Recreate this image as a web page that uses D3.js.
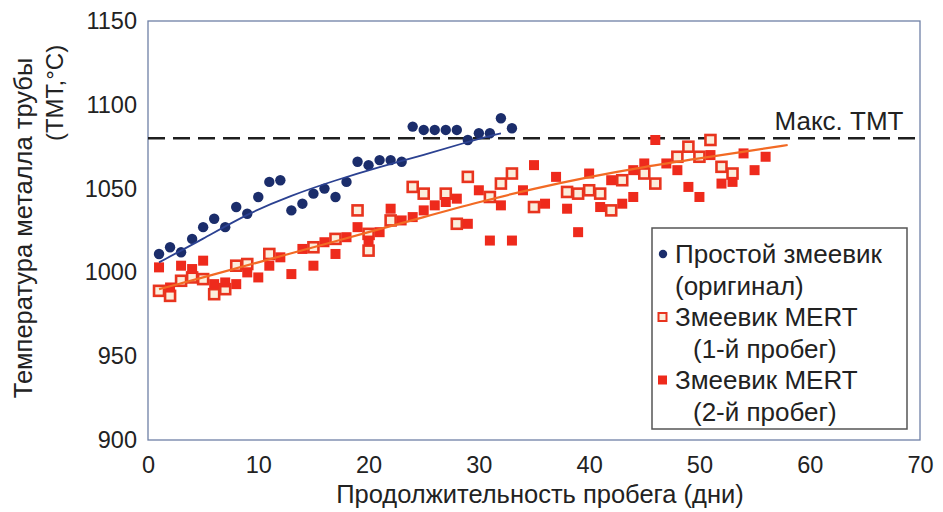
<!DOCTYPE html>
<html>
<head>
<meta charset="utf-8">
<script src="https://cdn.jsdelivr.net/npm/d3@7/dist/d3.min.js"></script>
<style>
  html, body { margin: 0; padding: 0; background: #fff; }
  svg { display: block; font-family: "Liberation Sans", Arial, sans-serif; }
</style>
</head>
<body>
<svg id="chart" width="943" height="512"></svg>
<script>
// Tube metal temperature over run length
const xTicks = [0, 10, 20, 30, 40, 50, 60, 70];
const yTicks = [900, 950, 1000, 1050, 1100, 1150];
const maxTMT = 1080;

// Plain coil (original)
const plainDays = [1,2,3,4,5,6,7,8,9,10,11,12,13,14,15,16,17,18,19,20,21,22,23,24,25,26,27,28,29,30,31,32,33];
const plainTemp = [1011,1015,1012,1020,1027,1032,1027,1039,1035,1045,1054,1055,1037,1041,1047,1050,1045,1054,1066,1064,1067,1067,1066,1087,1085,1085,1085,1085,1079,1083,1083,1092,1086];

// MERT coil, run 1
const run1Days = [1,2,3,4,5,6,7,8,9,11,15,17,19,20,20,22,24,25,27,28,29,31,32,33,35,38,39,40,41,42,43,45,46,48,49,50,51,52,53];
const run1Temp = [989,986,995,997,996,987,990,1004,1005,1011,1015,1020,1037,1023,1013,1031,1051,1047,1047,1029,1057,1045,1053,1059,1039,1048,1047,1049,1047,1037,1055,1059,1053,1069,1075,1069,1079,1063,1059];

// MERT coil, run 2
const run2Days = [1,2,3,4,5,6,7,8,9,10,11,12,13,14,15,16,17,18,19,20,21,22,23,24,25,26,27,28,29,30,31,32,33,34,35,36,37,38,39,40,41,42,43,44,44,45,46,47,48,49,50,51,52,53,54,55,56];
const run2Temp = [1003,991,1004,1002,1007,993,994,993,1000,997,1004,1009,999,1014,1004,1018,1011,1021,1027,1019,1024,1038,1031,1033,1037,1040,1042,1044,1029,1049,1019,1040,1019,1049,1064,1041,1057,1038,1024,1059,1039,1055,1041,1061,1045,1065,1079,1065,1061,1051,1045,1070,1053,1054,1071,1061,1069];

// Trend lines
const plainFitDays = [1,5,9,13,17,21,25,29,32];
const plainFitTemp = [1006,1020,1035,1046,1055,1063,1070,1078,1083];
const mertFitDays = [1,5,10,15,20,25,30,35,40,45,50,55,58];
const mertFitTemp = [990,997,1006,1015,1024,1033,1042,1050,1057,1063,1068,1073,1076];

const legendLines = ["Простой змеевик", "(оригинал)", "Змеевик MERT", "(1-й пробег)", "Змеевик MERT", "(2-й пробег)"];

const svg = d3.select("#chart");
const plotLeft = 148, plotRight = 920, plotTop = 21, plotBottom = 440;

const x = d3.scaleLinear().domain([0, 70]).range([plotLeft, plotRight]);
const y = d3.scaleLinear().domain([900, 1150]).range([plotBottom, plotTop]);

const textColor = "#222";
const navy = "#1b2d6b";
const red = "#ee2a1c";

// Frame
svg.append("rect")
  .attr("x", plotLeft).attr("y", plotTop)
  .attr("width", plotRight - plotLeft).attr("height", plotBottom - plotTop)
  .attr("fill", "none").attr("stroke", "#6f80a6").attr("stroke-width", 1.3);

// Axes (labels only; frame is drawn above)
const yAxis = svg.append("g")
  .attr("transform", `translate(${plotLeft},0)`)
  .call(d3.axisLeft(y).tickValues(yTicks).tickFormat(d3.format("d")).tickSize(0).tickPadding(11));
yAxis.select(".domain").remove();
yAxis.selectAll("text").attr("font-size", 23.5).attr("fill", textColor)
  .attr("font-family", "Liberation Sans, Arial, sans-serif");

const xAxis = svg.append("g")
  .attr("transform", `translate(0,${plotBottom})`)
  .call(d3.axisBottom(x).tickValues(xTicks).tickFormat(d3.format("d")).tickSize(0).tickPadding(16));
xAxis.select(".domain").remove();
xAxis.selectAll("text").attr("font-size", 23.5).attr("fill", textColor)
  .attr("font-family", "Liberation Sans, Arial, sans-serif");

// Axis titles
svg.append("text")
  .attr("x", 540).attr("y", 503)
  .attr("text-anchor", "middle")
  .attr("font-size", 25.5).attr("fill", textColor)
  .text("Продолжительность пробега (дни)");

svg.append("text")
  .attr("transform", "translate(32,228) rotate(-90)")
  .attr("text-anchor", "middle")
  .attr("font-size", 25.5).attr("fill", textColor)
  .text("Температура металла трубы");

svg.append("text")
  .attr("transform", "translate(63,93) rotate(-90)")
  .attr("text-anchor", "middle")
  .attr("font-size", 24).attr("fill", textColor)
  .text("(ТМТ,°С)");

// Max TMT limit
svg.append("line")
  .attr("x1", x(0)).attr("x2", x(70))
  .attr("y1", y(maxTMT)).attr("y2", y(maxTMT))
  .attr("stroke", "#1e1e1e").attr("stroke-width", 2.4)
  .attr("stroke-dasharray", "17,8");
svg.append("text")
  .attr("x", 839).attr("y", 130)
  .attr("text-anchor", "middle")
  .attr("font-size", 26).attr("fill", textColor)
  .text("Макс. ТМТ");

const line = d3.line().x(d => x(d[0])).y(d => y(d[1])).curve(d3.curveBasis);

// Run 1 (hollow squares)
const sq = 10;
svg.append("g").selectAll("rect")
  .data(d3.zip(run1Days, run1Temp))
  .join("rect")
  .attr("x", d => x(d[0]) - sq / 2).attr("y", d => y(d[1]) - sq / 2)
  .attr("width", sq).attr("height", sq)
  .attr("fill", "#fbeedc").attr("stroke", "#e8341e").attr("stroke-width", 2.6);

// Run 2 (filled squares)
svg.append("g").selectAll("rect")
  .data(d3.zip(run2Days, run2Temp))
  .join("rect")
  .attr("x", d => x(d[0]) - sq / 2).attr("y", d => y(d[1]) - sq / 2)
  .attr("width", sq).attr("height", sq)
  .attr("fill", red);

// MERT trend
svg.append("path")
  .datum(d3.zip(mertFitDays, mertFitTemp))
  .attr("d", line)
  .attr("fill", "none").attr("stroke", "#f26a24").attr("stroke-width", 2.2);

// Plain coil points and trend
svg.append("g").selectAll("circle")
  .data(d3.zip(plainDays, plainTemp))
  .join("circle")
  .attr("cx", d => x(d[0])).attr("cy", d => y(d[1]))
  .attr("r", 5.2).attr("fill", navy);

svg.append("path")
  .datum(d3.zip(plainFitDays, plainFitTemp))
  .attr("d", line)
  .attr("fill", "none").attr("stroke", "#2b4191").attr("stroke-width", 1.8);

// Legend
const lg = svg.append("g");
lg.append("rect")
  .attr("x", 652).attr("y", 228).attr("width", 255).attr("height", 201)
  .attr("fill", "#fff").attr("stroke", "#555").attr("stroke-width", 1.5);

const lineY = [263, 294.5, 326, 357.5, 389, 420.5];
const lineX = [675, 675, 675, 693, 675, 693];
lg.selectAll("text.lg")
  .data(legendLines)
  .join("text")
  .attr("class", "lg")
  .attr("x", (d, i) => lineX[i]).attr("y", (d, i) => lineY[i])
  .attr("font-size", 26).attr("fill", textColor)
  .text(d => d);

lg.append("circle").attr("cx", 663).attr("cy", 254).attr("r", 4.2).attr("fill", navy);
lg.append("rect").attr("x", 658.5).attr("y", 313).attr("width", 8).attr("height", 8)
  .attr("fill", "#fbeedc").attr("stroke", "#e8341e").attr("stroke-width", 2);
lg.append("rect").attr("x", 658).attr("y", 375.5).attr("width", 9).attr("height", 9)
  .attr("fill", red);
</script>
</body>
</html>
